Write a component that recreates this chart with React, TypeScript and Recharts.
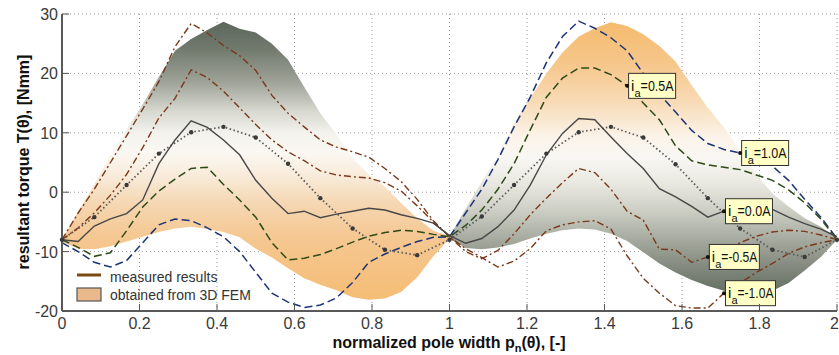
import React from 'react';
import {
  ComposedChart,
  XAxis,
  YAxis,
  CartesianGrid,
  Line,
  Area,
  ReferenceDot,
} from 'recharts';

// measurement grid: 1/24 steps over two pole pitches
const POSITIONS = Array.from({ length: 49 }, (_, i) => i / 24);

const X_TICKS = [0, 0.2, 0.4, 0.6, 0.8, 1, 1.2, 1.4, 1.6, 1.8, 2];
const Y_TICKS = [-20, -10, 0, 10, 20, 30];

// measured torque [Nmm] per armature current
const TORQUE_P10 = [
  -8.5, -10, -11.8, -12.6, -11.5, -8.5, -5.5, -4.5, -4.8, -6, -7.5, -10, -13.5,
  -17, -18.5, -19.4, -19, -17.8, -15.2, -11.8, -10.4, -9.3, -8.3, -7.6, -7.5,
  -3.5, 0.5, 5.5, 11, 16, 21.8, 26.2, 28.8, 27.6, 26, 23.8, 20, 16.5, 13.5,
  10.4, 8.2, 7.2, 6.6, 5.5, 4.4, 2, -1.2, -4.2, -7.8,
];
const TORQUE_P05 = [
  -8, -9.3, -10.8, -10.2, -6.5, -2.5, 0.2, 2.2, 4, 4.2, 1.3, -1.3, -4.2, -8.5,
  -11.4, -11.1, -10.5, -9.5, -8.4, -7.4, -6.8, -6.4, -6.6, -7.1, -7.5,
  -5.6, -3, 0.5, 4.8, 10.5, 16, 19.2, 20.9, 20.9, 19.8, 17.9, 15, 12.2, 7.8,
  5.3, 4.6, 4.2, 3.8, 2.9, 2, 0.4, -1.8, -4.5, -8,
];
const TORQUE_00 = [
  -8, -8.3, -5.7, -4.5, -3.6, -1.3, 4.8, 8.8, 12, 10.9, 8.8, 6.3, 2, -1, -3.6,
  -3.2, -4.3, -3.7, -3.2, -2.7, -3, -3.8, -4.4, -5.2, -7.3,
  -8.6, -7.8, -5.8, -3, 1.2, 6.3, 9.9, 12.4, 12.2, 9.3, 6.5, 4, 0.6, -0.8,
  -2.4, -4.2, -3.2, -2.9, -2.7, -2.9, -4.2, -5.3, -6.2, -7.5,
];
const TORQUE_M05 = [
  -8, -6, -3.5, -0.5, 3, 7.5, 12.5, 15.8, 20.6, 19.3, 17, 14.2, 11.4, 8.8, 6.8,
  5.3, 3.6, 2.9, 2.6, 2.4, 1.6, 0.2, -2.3, -5, -7.5,
  -10, -11.2, -9.8, -7, -3.8, -1, 1.6, 4, 3.3, 0.5, -3.2, -4.7, -9.6, -9.7,
  -11.8, -10.9, -9.8, -8.5, -7.4, -6.7, -6.4, -6.6, -7.2, -8,
];
const TORQUE_M10 = [
  -8, -3.5, 0.5, 5, 9.5, 14, 18.6, 24.5, 28.4, 26.8, 24.7, 23, 20.5, 16.3,
  13.3, 11, 8.8, 7.6, 6.8, 5.9, 4, 1.8, -1.2, -4.8, -7.5,
  -9.5, -11, -12.6, -11.6, -9.5, -6.5, -5.5, -5, -4.8, -6.2, -10.7, -14.5,
  -17, -19.1, -19.5, -19.5, -17, -15.3, -13.5, -12, -10.3, -9.2, -8.5, -8,
];
// dotted reference curve, sampled every second step
const TORQUE_MID = [
  -8, null, -4.2, null, 1.2, null, 6.5, null, 10.1, null, 11, null, 9.2, null,
  4.8, null, -1, null, -6.1, null, -9.7, null, -10.6, null, -8,
  null, -4.1, null, 1.2, null, 6.5, null, 10.1, null, 11, null, 9.2, null,
  4.7, null, -1, null, -6.1, null, -9.7, null, -10.9, null, -8,
];

// 3D FEM envelope
const FEM_UPPER = [
  -8, -3.3, 1.3, 6.3, 10.5, 14.8, 19.4, 23.8, 25.8, 27.3, 28.7, 27.5, 26.9, 25,
  22.3, 17.7, 13.3, 9.7, 5.7, 3, 0.9, -1.8, -4.4, -6.5, -7.4,
  -2.8, 1.8, 6.3, 11.6, 15.8, 20, 23.5, 26.2, 27.6, 28.6, 28, 26.6, 24.6, 22,
  18, 14.2, 10.9, 7.1, 3, -0.2, -2.4, -4.4, -5.8, -7.8,
];
const FEM_LOWER = [
  -8.3, -9.5, -9.6, -9.1, -8.3, -7.5, -6.7, -6.1, -5.8, -6.2, -6.7, -7.6, -9.5,
  -11, -12.8, -14.5, -15.6, -16.5, -17.7, -18.1, -17.9, -16.8, -14.3, -10.8,
  -7.8,
  -9.4, -9.6, -9.3, -8.7, -7.8, -7, -6.4, -6.1, -6.3, -7, -8.2, -10.1, -12,
  -13.5, -14.8, -15.8, -16.6, -16.9, -17, -16.6, -15.3, -13.2, -10.9, -8,
];

const TAGS = [
  { text: '=0.5A', values: TORQUE_P05, at: 35 },
  { text: '=1.0A', values: TORQUE_P10, at: 42 },
  { text: '=0.0A', values: TORQUE_00, at: 41 },
  { text: '=-0.5A', values: TORQUE_M05, at: 40 },
  { text: '=-1.0A', values: TORQUE_M10, at: 41 },
];

const data = POSITIONS.map((x, i) => ({
  x,
  p10: TORQUE_P10[i],
  p05: TORQUE_P05[i],
  i00: TORQUE_00[i],
  m05: TORQUE_M05[i],
  m10: TORQUE_M10[i],
  mid: TORQUE_MID[i],
  femA: i <= 24 ? [FEM_LOWER[i], FEM_UPPER[i]] : null,
  femB: i >= 24 ? [FEM_LOWER[i], FEM_UPPER[i]] : null,
}));

const FONT = '"Liberation Sans", Arial, sans-serif';
const BROWN = '#7a381b';

function XTick({ x, y, payload }: any) {
  // last label sits at the right edge of the figure
  const last = payload.value === 2;
  return (
    <g>
      <line x1={x} x2={x} y1={y} y2={y - 7} stroke="#555" />
      <text
        x={last ? x + 2 : x}
        y={y + 18}
        textAnchor={last ? 'end' : 'middle'}
        fontSize={16}
        fill="#3a3a3a"
        fontFamily={FONT}
      >
        {String(payload.value)}
      </text>
    </g>
  );
}

function YTick({ x, y, payload }: any) {
  return (
    <g>
      <line x1={x} x2={x + 7} y1={y} y2={y} stroke="#555" />
      <text x={x - 4} y={y + 6} textAnchor="end" fontSize={16} fill="#3a3a3a" fontFamily={FONT}>
        {String(payload.value)}
      </text>
    </g>
  );
}

function MidDot(p: any) {
  if (p.value == null || p.cy == null) return <g key={p.index} />;
  return <circle key={p.index} cx={p.cx} cy={p.cy} r={2.2} fill="#3a3a3a" />;
}

function Tag({ cx, cy, text }: any) {
  const w = text.length > 5 ? 50 : 47;
  const x0 = cx + 1.5;
  return (
    <g fontFamily={FONT} fill="#111">
      <rect x={x0} y={cy - 12.5} width={w} height={25} fill="#ffffc6" stroke="#333" />
      <circle cx={cx} cy={cy} r={2} fill="#111" />
      <text x={x0 + 2.5} y={cy + 5} fontSize={15}>i</text>
      <text x={x0 + 6} y={cy + 11} fontSize={11}>a</text>
      <text x={x0 + 12} y={cy + 5} fontSize={15} textLength={w - 14} lengthAdjust="spacingAndGlyphs">
        {text}
      </text>
    </g>
  );
}

export default function App() {
  return (
    <div style={{ position: 'absolute', left: 0, top: 0, width: 839, height: 355, background: '#fff' }}>
      <ComposedChart
        width={839}
        height={355}
        data={data}
        margin={{ top: 14, right: 2, bottom: 0, left: 0 }}
      >
        <defs>
          <linearGradient id="femA" x1="0" y1="0" x2="0" y2="1">
            <stop offset="0" stopColor="#5d665c" />
            <stop offset="0.1" stopColor="#727a6e" />
            <stop offset="0.22" stopColor="#a0a499" />
            <stop offset="0.32" stopColor="#d6d7cf" />
            <stop offset="0.4" stopColor="#f3f2ed" />
            <stop offset="0.47" stopColor="#fbf8f3" />
            <stop offset="0.56" stopColor="#f8ead8" />
            <stop offset="0.66" stopColor="#f5d6b0" />
            <stop offset="0.78" stopColor="#f5c791" />
            <stop offset="1" stopColor="#f5bd74" />
          </linearGradient>
          <linearGradient id="femB" x1="0" y1="0" x2="0" y2="1">
            <stop offset="0" stopColor="#f5bb6e" />
            <stop offset="0.15" stopColor="#f6c68a" />
            <stop offset="0.3" stopColor="#f8dcb8" />
            <stop offset="0.42" stopColor="#fbf3e8" />
            <stop offset="0.5" stopColor="#f8f7f3" />
            <stop offset="0.6" stopColor="#e8e7df" />
            <stop offset="0.7" stopColor="#cbcdc3" />
            <stop offset="0.8" stopColor="#a6aa9f" />
            <stop offset="0.9" stopColor="#848a7f" />
            <stop offset="1" stopColor="#646e62" />
          </linearGradient>
        </defs>
        <CartesianGrid stroke="#9a9a9a" strokeDasharray="1 3" />
        <XAxis
          type="number"
          dataKey="x"
          domain={[0, 2]}
          ticks={X_TICKS}
          interval={0}
          height={44}
          tickSize={0}
          tickMargin={0}
          tickLine={false}
          tick={XTick}
          axisLine={{ stroke: '#5a5a5a', strokeWidth: 2 }}
        />
        <YAxis
          type="number"
          domain={[-20, 30]}
          ticks={Y_TICKS}
          interval={0}
          width={62}
          tickSize={0}
          tickMargin={0}
          tickLine={false}
          tick={YTick}
          axisLine={{ stroke: '#5a5a5a', strokeWidth: 2 }}
        />
        <Area dataKey="femA" type="linear" fill="url(#femA)" fillOpacity={1} stroke="none" isAnimationActive={false} />
        <Area dataKey="femB" type="linear" fill="url(#femB)" fillOpacity={1} stroke="none" isAnimationActive={false} />
        <Line dataKey="p10" type="linear" stroke="#1d3477" strokeWidth={1.5} strokeDasharray="8 4" dot={false} isAnimationActive={false} />
        <Line dataKey="p05" type="linear" stroke="#2e4a17" strokeWidth={1.5} strokeDasharray="8 4" dot={false} isAnimationActive={false} />
        <Line dataKey="m05" type="linear" stroke={BROWN} strokeWidth={1.4} strokeDasharray="7 3 2 3" dot={false} isAnimationActive={false} />
        <Line dataKey="m10" type="linear" stroke={BROWN} strokeWidth={1.4} strokeDasharray="7 3 2 3" dot={false} isAnimationActive={false} />
        <Line dataKey="mid" type="linear" stroke="#5a5a5a" strokeWidth={1.8} strokeDasharray="1.5 2.5" connectNulls dot={MidDot} isAnimationActive={false} />
        <Line dataKey="i00" type="linear" stroke="#474747" strokeWidth={1.4} dot={false} isAnimationActive={false} />
        {TAGS.map(t => (
          <ReferenceDot
            key={t.text}
            x={POSITIONS[t.at]}
            y={t.values[t.at]}
            r={2}
            shape={(p: any) => <Tag cx={p.cx} cy={p.cy} text={t.text} />}
          />
        ))}
      </ComposedChart>
      <svg
        width={839}
        height={355}
        style={{ position: 'absolute', left: 0, top: 0, pointerEvents: 'none' }}
        fontFamily={FONT}
      >
        <text
          transform="translate(29,162) rotate(-90)"
          textAnchor="middle"
          fontSize={16}
          fontWeight="bold"
          fill="#111"
        >
          resultant torque T(θ), [Nmm]
        </text>
        <text x={449} y={348} textAnchor="middle" fontSize={16} fontWeight="bold" fill="#111">
          normalized pole width p
          <tspan dy={4} fontSize={11}>n</tspan>
          <tspan dy={-4}>(θ), [-]</tspan>
        </text>
        <line x1={77} x2={101} y1={275} y2={275} stroke="#7b4a14" strokeWidth={3} />
        <text x={110} y={282} fontSize={14} fill="#333">measured results</text>
        <rect x={77} y={288} width={24} height={13} fill="#e9b98b" stroke="#555" strokeWidth={1.2} />
        <text x={110} y={300} fontSize={14} fill="#333">obtained from 3D FEM</text>
      </svg>
    </div>
  );
}
